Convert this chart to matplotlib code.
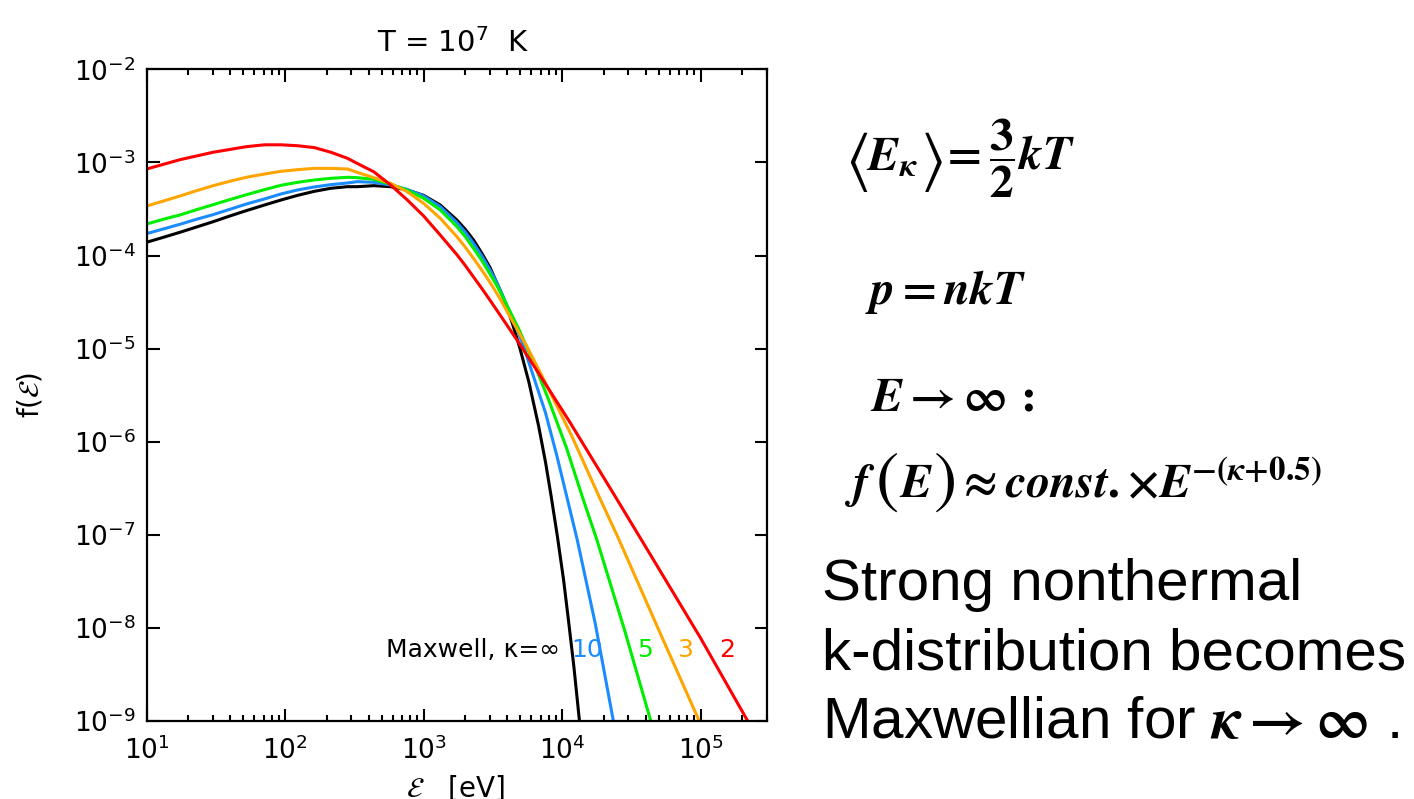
import matplotlib.pyplot as plt
import numpy as np
from matplotlib.ticker import NullLocator

# kappa-distribution spectra at T = 1e7 K: log10 E [eV] and log10 f(E)
# shared energy grid for the low-energy part of every curve
grid_logE = [1.00, 1.12, 1.24, 1.36, 1.48, 1.60, 1.72, 1.85, 1.97, 2.09, 2.21,
             2.33, 2.45, 2.52, 2.64, 2.76, 2.88, 3.00, 3.12, 3.24]

k2_low = [-3.07, -3.02, -2.97, -2.93, -2.89, -2.86, -2.83, -2.81, -2.81, -2.82, -2.84,
          -2.89, -2.955, -3.01, -3.10, -3.24, -3.40, -3.575, -3.78, -3.99]
k3_low = [-3.467, -3.414, -3.36, -3.303, -3.249, -3.202, -3.159, -3.124, -3.095, -3.077, -3.063,
          -3.063, -3.07, -3.106, -3.163, -3.224, -3.313, -3.439, -3.60, -3.797]
k5_low = [-3.661, -3.61, -3.564, -3.507, -3.453, -3.399, -3.346, -3.292, -3.245, -3.213, -3.188,
          -3.17, -3.159, -3.163, -3.181, -3.234, -3.295, -3.385, -3.51, -3.689]
k10_low = [-3.764, -3.714, -3.664, -3.61, -3.56, -3.503, -3.446, -3.392, -3.338, -3.295, -3.263,
           -3.238, -3.22, -3.206, -3.213, -3.242, -3.288, -3.36, -3.474, -3.646]
maxw_low = [-3.857, -3.804, -3.75, -3.693, -3.636, -3.575, -3.517, -3.457, -3.403, -3.353, -3.31,
            -3.277, -3.26, -3.26, -3.249, -3.26, -3.295, -3.353, -3.457, -3.618]

# high-energy tails
k2_tail_logE = [3.30, 3.36, 3.415, 3.47, 3.525, 3.58, 3.70, 3.82, 3.94, 4.06, 4.22, 4.38,
                4.65, 5.00, 5.34]
k2_tail_logf = [-4.106, -4.23, -4.343, -4.46, -4.58, -4.70, -4.965, -5.24, -5.52, -5.80, -6.19,
                -6.58, -7.245, -8.11, -9.00]
k3_tail_logE = [3.30, 3.36, 3.41, 3.46, 3.505, 3.55, 3.64, 3.75, 3.86, 4.07, 4.27, 4.41,
                4.70, 4.99]
k3_tail_logf = [-3.909, -4.03, -4.135, -4.245, -4.35, -4.46, -4.70, -4.99, -5.31, -5.94, -6.60,
                -7.05, -8.03, -9.00]
k5_tail_logE = [3.30, 3.36, 3.42, 3.48, 3.53, 3.58, 3.69, 3.80, 3.90, 4.03, 4.15, 4.25,
                4.45, 4.64]
k5_tail_logf = [-3.796, -3.922, -4.053, -4.20, -4.327, -4.47, -4.80, -5.17, -5.54, -6.06, -6.61,
                -7.05, -8.02, -9.00]
k10_tail_logE = [3.30, 3.36, 3.42, 3.48, 3.53, 3.575, 3.65, 3.72, 3.80, 3.88, 3.96, 4.04,
                 4.11, 4.24, 4.37]
k10_tail_logf = [-3.748, -3.868, -4.004, -4.155, -4.297, -4.445, -4.70, -4.97, -5.33, -5.69,
                 -6.14, -6.63, -7.06, -7.96, -9.00]
maxw_tail_logE = [3.30, 3.36, 3.42, 3.48, 3.53, 3.575, 3.64, 3.695, 3.76, 3.83, 3.88, 3.92,
                  3.965, 4.01, 4.045, 4.085, 4.125]
maxw_tail_logf = [-3.717, -3.832, -3.975, -4.13, -4.30, -4.45, -4.725, -4.995, -5.36, -5.83,
                  -6.22, -6.58, -7.01, -7.48, -7.91, -8.42, -9.00]

series = [
    (maxw_low, maxw_tail_logE, maxw_tail_logf, "black", "Maxwell, κ=∞"),
    (k10_low, k10_tail_logE, k10_tail_logf, "#1a8cff", "10"),
    (k5_low, k5_tail_logE, k5_tail_logf, "#00ee00", "5"),
    (k3_low, k3_tail_logE, k3_tail_logf, "#ffa500", "3"),
    (k2_low, k2_tail_logE, k2_tail_logf, "#ff0000", "2"),
]

W, H = 1414, 799
fig = plt.figure(figsize=(W / 100, H / 100), dpi=100)
ax = fig.add_axes([146.7 / W, 78 / H, 620 / W, 651.6 / H])

for low, tE, tf, c, _ in series:
    logE = np.array(grid_logE + tE)
    logf = np.array(low + tf)
    ax.plot(10 ** logE, 10 ** logf, color=c, lw=2.2, solid_joinstyle="round")

ax.set_xscale("log")
ax.set_yscale("log")
ax.set_xlim(10, 3e5)
ax.set_ylim(1e-9, 1e-2)
ax.yaxis.set_minor_locator(NullLocator())
for s in ax.spines.values():
    s.set_linewidth(1.6)
ax.tick_params(which="both", direction="in", top=True, right=True, width=1.5,
               labelsize=19, colors="black")
ax.tick_params(which="major", length=9)
ax.tick_params(which="minor", length=4.5)
ax.tick_params(axis="x", pad=11)
ax.tick_params(axis="y", pad=8)


def put(x, y, s, size, **kw):
    """Text at pixel position (x, y) measured from the top-left corner."""
    kw.setdefault("va", "baseline")
    kw.setdefault("ha", "left")
    return fig.text(x / W, 1 - y / H, s, fontsize=size, **kw)


# curve labels along the bottom
lab_x = [560, 587, 645, 685, 727]
for (_, _, _, c, txt), x in zip(series, lab_x):
    put(x, 657, txt, 18, color=c, ha="right" if txt.startswith("Max") else "center")

put(453, 52, r"T = 10$^7$  K", 21, ha="center")
put(30, 395, r"f($\mathcal{E}$)", 20, rotation=90, ha="center", va="center",
    math_fontfamily="stix")
put(456, 797, r"$\mathcal{E}$   [eV]", 20, ha="center", math_fontfamily="stix")

# formulas on the right
eq = dict(math_fontfamily="stix")
put(845, 178, r"$\langle$", 46, **eq)
put(866, 170, r"$\mathbfit{E}_{\mathbfit{\kappa}}$", 34, **eq)
put(920, 178, r"$\rangle$", 46, **eq)
put(940, 170, r"$\mathbf{=}\dfrac{\mathbf{3}}{\mathbf{2}}\mathbfit{kT}$", 34, **eq)

put(865, 304, r"$\mathbfit{p}\mathbf{=}\mathbfit{nkT}$", 34, **eq)
put(870, 410, r"$\mathbfit{E}\mathbf{\rightarrow}\mathbf{\infty}\,\mathbf{:}$", 34, **eq)

put(845, 497, r"$\mathbfit{f}$", 34, **eq)
put(875, 500, r"$($", 50, **eq)
put(899, 497, r"$\mathbfit{E}$", 34, **eq)
put(933, 500, r"$)$", 50, **eq)
put(956, 497,
    r"$\mathbf{\approx}\mathbfit{const}\mathbf{.}\mathbf{\times}"
    r"\mathbfit{E}^{\mathbf{-(}\mathbfit{\kappa}\mathbf{+0.5)}}$", 34, **eq)

txt_kw = dict(family="Liberation Sans", math_fontfamily="stix")
put(822, 600, "Strong nonthermal", 42, **txt_kw)
put(822, 669, "k-distribution becomes", 42, **txt_kw)
put(822, 738, r"Maxwellian for $\mathbfit{\kappa}\mathbf{\rightarrow\infty}$ .", 42, **txt_kw)

fig.savefig("out.png", dpi=100)
